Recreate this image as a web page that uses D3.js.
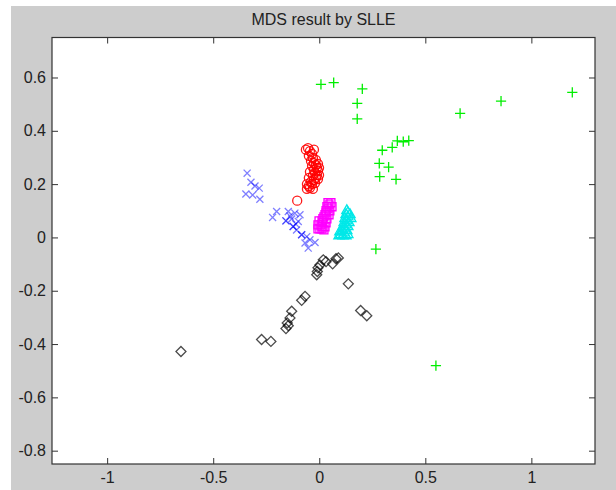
<!DOCTYPE html>
<html>
<head>
<meta charset="utf-8">
<script src="https://cdn.jsdelivr.net/npm/d3@7"></script>
<style>
  html, body { margin: 0; padding: 0; background: #fff; }
</style>
</head>
<body>
<script>
// values, one array per class
let titleText = 'MDS result by SLLE';
let xTicks = [-1, -0.5, 0, 0.5, 1];
let yTicks = [-0.8, -0.6, -0.4, -0.2, 0, 0.2, 0.4, 0.6];
let xDomain = [-1.26, 1.3];
let yDomain = [-0.85, 0.75];

let circles = [
  [-0.053, 0.335], [-0.044, 0.324], [-0.034, 0.313], [-0.049, 0.306], [-0.030, 0.298],
  [-0.039, 0.287], [-0.025, 0.279], [-0.016, 0.272], [-0.034, 0.268], [-0.011, 0.261],
  [-0.025, 0.253], [-0.006, 0.250], [-0.020, 0.242], [-0.011, 0.234], [-0.030, 0.231],
  [-0.016, 0.223], [-0.025, 0.216], [-0.039, 0.208], [-0.034, 0.201], [-0.049, 0.193],
  [-0.044, 0.186], [-0.058, 0.182], [-0.030, 0.182], [-0.104, 0.138],
  [-0.016, 0.291], [-0.006, 0.276], [-0.001, 0.261], [-0.001, 0.234], [-0.006, 0.219],
  [-0.020, 0.204], [-0.044, 0.246], [-0.049, 0.223], [-0.058, 0.200], [-0.063, 0.329],
  [-0.025, 0.329]
];

let crosses = [
  [-0.340, 0.241], [-0.322, 0.207], [-0.303, 0.193], [-0.283, 0.185], [-0.346, 0.163],
  [-0.314, 0.159], [-0.280, 0.143], [-0.201, 0.097], [-0.220, 0.075], [-0.146, 0.097],
  [-0.115, 0.091], [-0.091, 0.085], [-0.157, 0.062], [-0.157, 0.062], [-0.130, 0.069],
  [-0.099, 0.060], [-0.123, 0.041], [-0.123, 0.041], [-0.107, 0.028], [-0.083, 0.010],
  [-0.083, 0.010], [-0.059, 0.003], [-0.044, -0.009], [-0.067, -0.021], [-0.020, -0.019],
  [-0.052, -0.040], [-0.138, 0.080], [-0.110, 0.050]
];

let pluses = [
  [0.008, 0.574], [0.068, 0.581], [0.203, 0.557], [0.179, 0.503], [0.179, 0.445],
  [0.664, 0.465], [0.857, 0.511], [1.193, 0.544], [0.297, 0.327], [0.344, 0.338],
  [0.368, 0.362], [0.396, 0.359], [0.422, 0.363], [0.283, 0.278], [0.327, 0.264],
  [0.285, 0.228], [0.362, 0.218], [0.267, -0.044], [0.550, -0.481]
];

let diamonds = [
  [0.090, -0.077], [0.079, -0.080], [0.063, -0.099], [0.019, -0.084], [0.032, -0.091],
  [0.003, -0.103], [-0.006, -0.114], [-0.009, -0.128], [-0.012, -0.140], [0.137, -0.174],
  [-0.067, -0.221], [-0.083, -0.236], [0.195, -0.274], [0.224, -0.294], [-0.130, -0.277],
  [-0.138, -0.302], [-0.151, -0.321], [-0.146, -0.331], [-0.157, -0.342], [-0.272, -0.383],
  [-0.228, -0.390], [-0.652, -0.428]
];

let squares = [
  [0.041, 0.130], [0.046, 0.122], [0.036, 0.115], [0.041, 0.107], [0.032, 0.100],
  [0.032, 0.092], [0.027, 0.085], [0.022, 0.077], [0.017, 0.070], [0.013, 0.062],
  [0.017, 0.055], [0.008, 0.047], [0.013, 0.040], [0.003, 0.032], [0.013, 0.032],
  [0.055, 0.130], [0.060, 0.115], [0.050, 0.100], [0.046, 0.085], [0.036, 0.070],
  [0.032, 0.055], [0.027, 0.040], [0.022, 0.028], [-0.006, 0.047], [-0.006, 0.032],
  [-0.001, 0.062]
];

let triangles = [
  [0.130, 0.100], [0.135, 0.092], [0.126, 0.085], [0.135, 0.077], [0.121, 0.070],
  [0.130, 0.062], [0.117, 0.055], [0.126, 0.047], [0.112, 0.040], [0.121, 0.032],
  [0.107, 0.025], [0.117, 0.017], [0.102, 0.010], [0.112, 0.006], [0.126, 0.006],
  [0.145, 0.085], [0.149, 0.070], [0.140, 0.055], [0.135, 0.040], [0.130, 0.025],
  [0.093, 0.006], [0.097, 0.021], [0.135, 0.010]
];

let width = 616;
let height = 490;

let plot = {left: 52, right: 595, top: 37.5, bottom: 464};

let xScale = d3.scaleLinear(xDomain, [plot.left, plot.right]);
let yScale = d3.scaleLinear(yDomain, [plot.bottom, plot.top]);

let svg = d3.create('svg')
  .attr('width', width)
  .attr('height', height)
  .attr('font-family', '"Liberation Sans", Arial, sans-serif');

// grey figure background
svg.append('rect')
  .attr('x', 11)
  .attr('y', 6)
  .attr('width', width - 11)
  .attr('height', height - 6)
  .attr('fill', '#cdcdcd');

svg.append('rect')
  .attr('x', plot.left)
  .attr('y', plot.top)
  .attr('width', plot.right - plot.left)
  .attr('height', plot.bottom - plot.top)
  .attr('fill', '#fff');

let fmt = d => String(d);

let styleAxis = g => {
  g.select('.domain').remove();
  g.selectAll('.tick line').attr('stroke', '#333');
  g.selectAll('.tick text').attr('fill', '#222').attr('font-size', 16);
};

svg.append('g')
  .attr('transform', `translate(0,${plot.bottom})`)
  .call(d3.axisBottom(xScale).tickValues(xTicks).tickFormat(fmt)
    .tickSizeInner(-6).tickSizeOuter(0).tickPadding(8))
  .call(styleAxis);

svg.append('g')
  .attr('transform', `translate(0,${plot.top})`)
  .call(d3.axisTop(xScale).tickValues(xTicks).tickFormat('')
    .tickSizeInner(-6).tickSizeOuter(0))
  .call(styleAxis);

svg.append('g')
  .attr('transform', `translate(${plot.left},0)`)
  .call(d3.axisLeft(yScale).tickValues(yTicks).tickFormat(fmt)
    .tickSizeInner(-6).tickSizeOuter(0).tickPadding(6))
  .call(styleAxis);

svg.append('g')
  .attr('transform', `translate(${plot.right},0)`)
  .call(d3.axisRight(yScale).tickValues(yTicks).tickFormat('')
    .tickSizeInner(-6).tickSizeOuter(0))
  .call(styleAxis);

// box round the axes
svg.append('rect')
  .attr('x', plot.left)
  .attr('y', plot.top)
  .attr('width', plot.right - plot.left)
  .attr('height', plot.bottom - plot.top)
  .attr('fill', 'none')
  .attr('stroke', '#333')
  .attr('stroke-width', 1.2);

let drawSeries = (data, type, size, color, opacity, rotate) => {
  svg.append('g')
    .selectAll('path')
    .data(data)
    .join('path')
    .attr('d', d3.symbol(type, size))
    .attr('transform', d => `translate(${xScale(d[0])},${yScale(d[1])}) rotate(${rotate})`)
    .attr('fill', 'none')
    .attr('stroke', color)
    .attr('stroke-opacity', opacity)
    .attr('stroke-width', 1.3);
};

drawSeries(circles, d3.symbolCircle, 64, '#ff0000', 0.9, 0);
drawSeries(crosses, d3.symbolX, 34, '#0000ff', 0.5, 0);
drawSeries(pluses, d3.symbolPlus, 36, '#00ee00', 1, 0);
drawSeries(diamonds, d3.symbolSquare, 50, '#000', 0.7, 45);
drawSeries(squares, d3.symbolSquare, 64, '#ff00ff', 1, 0);
drawSeries(triangles, d3.symbolTriangle, 45, '#00e8e8', 1, 0);

svg.append('text')
  .text(titleText)
  .attr('x', (plot.left + plot.right) / 2)
  .attr('y', 25)
  .attr('font-size', 16)
  .attr('fill', '#222')
  .attr('text-anchor', 'middle');

document.body.prepend(svg.node());
</script>
</body>
</html>
